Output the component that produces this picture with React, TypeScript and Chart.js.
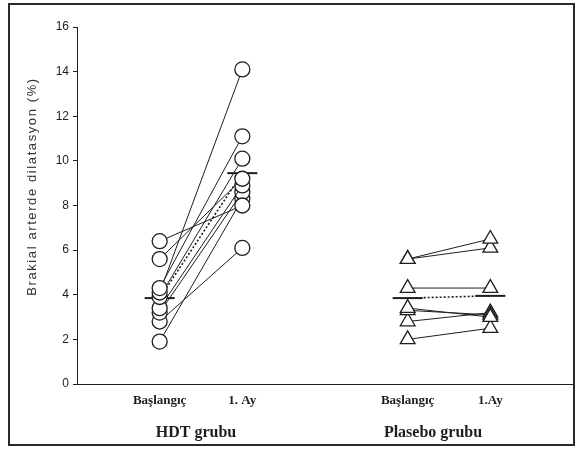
import React, { useEffect, useRef } from "react";
import { Chart, registerables } from "chart.js";

Chart.register(...registerables);

// Category positions on the x scale
const categoryLabels = ["Başlangıç", "1. Ay", "Başlangıç", "1.Ay"];
const categoryX = [1, 2, 4, 5];
const groupLabels = ["HDT grubu", "Plasebo grubu"];
const yTitle = "Brakial arterde dilatasyon (%)";

// HDT grubu: per-subject baseline and 1st month values (%)
const hdtStart = [6.4, 5.6, 4.3, 4.1, 3.9, 3.4, 3.2, 2.8, 1.9];
const hdtEnd = [8.0, 9.2, 11.1, 14.1, 10.1, 8.9, 8.6, 6.1, 8.3];
const hdtMean = [3.85, 9.45];

// Plasebo grubu
const plaStart = [5.6, 5.6, 4.3, 3.4, 3.3, 2.8, 2.0];
const plaEnd = [6.5, 6.1, 4.3, 3.0, 3.1, 3.2, 2.5];
const plaMean = [3.85, 3.95];

const yTicks = [0, 2, 4, 6, 8, 10, 12, 14, 16];

const INK = "#1e1e1e";

export default function App() {
  const ref = useRef<HTMLCanvasElement | null>(null);

  useEffect(() => {
    if (!ref.current) return;
    const datasets: any[] = [];
    const pairSet = (s: number, e: number, x0: number, x1: number, style: string, r: number) => ({
      type: "scatter",
      data: [
        { x: x0, y: s },
        { x: x1, y: e },
      ],
      showLine: true,
      borderColor: INK,
      borderWidth: 1,
      pointStyle: style,
      pointRadius: r,
      pointBackgroundColor: "#ffffff",
      pointBorderColor: INK,
      pointBorderWidth: 1.3,
    });
    hdtStart.forEach((s, i) => datasets.push(pairSet(s, hdtEnd[i], categoryX[0], categoryX[1], "circle", 7.5)));
    plaStart.forEach((s, i) => datasets.push(pairSet(s, plaEnd[i], categoryX[2], categoryX[3], "triangle", 8.5)));
    const meanSet = (m: number[], x0: number, x1: number) => ({
      type: "scatter",
      data: [
        { x: x0, y: m[0] },
        { x: x1, y: m[1] },
      ],
      showLine: true,
      borderColor: INK,
      borderWidth: 1.6,
      borderDash: [2, 2],
      pointStyle: "line",
      pointRadius: 15,
      pointBorderColor: INK,
      pointBorderWidth: 2,
    });
    datasets.push(meanSet(hdtMean, categoryX[0], categoryX[1]));
    datasets.push(meanSet(plaMean, categoryX[2], categoryX[3]));

    const labelPlugin = {
      id: "groupLabels",
      afterDraw(chart: any) {
        const ctx = chart.ctx;
        const xs = chart.scales.x;
        const ca = chart.chartArea;
        ctx.save();
        ctx.fillStyle = INK;
        ctx.font = "bold 16px 'Liberation Serif', serif";
        ctx.textAlign = "center";
        ctx.textBaseline = "middle";
        const mid1 = (categoryX[0] + categoryX[1]) / 2;
        const mid2 = (categoryX[2] + categoryX[3]) / 2;
        ctx.fillText(groupLabels[0], xs.getPixelForValue(mid1) - 5, ca.bottom + 49);
        ctx.fillText(groupLabels[1], xs.getPixelForValue(mid2) - 16, ca.bottom + 49);
        // y axis title
        ctx.translate(22, (ca.top + ca.bottom) / 2 - 19);
        ctx.rotate(-Math.PI / 2);
        ctx.fillStyle = "#333";
        ctx.font = "13px 'Liberation Sans', Arial, sans-serif";
        (ctx as any).letterSpacing = "1.6px";
        ctx.fillText(yTitle, 0, 0);
        ctx.restore();
      },
    };

    const chart = new Chart(ref.current, {
      type: "scatter",
      data: { datasets },
      plugins: [labelPlugin],
      options: {
        animation: false,
        responsive: false,
        events: [],
        layout: { autoPadding: false, padding: { top: 22, right: 0, left: 0, bottom: 0 } },
        plugins: { legend: { display: false }, tooltip: { enabled: false } },
        scales: {
          x: {
            type: "linear",
            min: 0,
            max: 6,
            afterFit: (s: any) => {
              s.height = 60;
            },
            afterBuildTicks: (s: any) => {
              s.ticks = categoryX.map((v) => ({ value: v }));
            },
            grid: { display: false, drawTicks: false },
            border: { display: true, color: INK, width: 1 },
            ticks: {
              padding: 9,
              autoSkip: false,
              maxRotation: 0,
              color: INK,
              font: { family: "'Liberation Serif', serif", size: 13, weight: "bold" },
              callback: (v: any) => {
                const i = categoryX.indexOf(Number(v));
                return i >= 0 ? categoryLabels[i] : "";
              },
            },
          },
          y: {
            min: 0,
            max: 16,
            afterFit: (s: any) => {
              s.width = 67;
            },
            afterBuildTicks: (s: any) => {
              s.ticks = yTicks.map((v) => ({ value: v }));
            },
            grid: { drawOnChartArea: false, drawTicks: true, tickLength: 4, color: INK },
            border: { display: true, color: INK, width: 1 },
            ticks: {
              padding: 4,
              color: INK,
              font: { family: "'Liberation Sans', Arial, sans-serif", size: 12 },
            },
          },
        },
      },
    } as any);
    return () => chart.destroy();
  }, []);

  return (
    <div
      style={{
        position: "absolute",
        left: 8,
        top: 3,
        width: 567,
        height: 443,
        border: "2px solid #2a2a2a",
        boxSizing: "border-box",
        background: "#fff",
      }}
    >
      <canvas ref={ref} width={563} height={439} style={{ display: "block", width: 563, height: 439 }} />
    </div>
  );
}
